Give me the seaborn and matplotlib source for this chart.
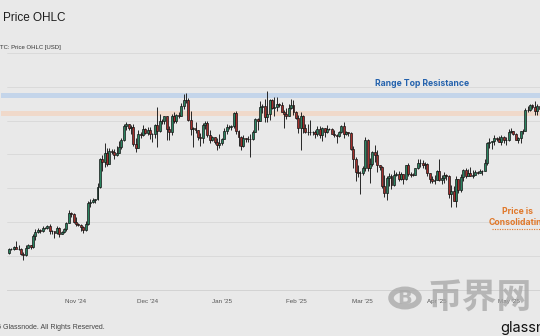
import numpy as np
import pandas as pd
import matplotlib
matplotlib.use("Agg")
import matplotlib.pyplot as plt
import matplotlib.dates as mdates
from matplotlib.patches import Circle
from matplotlib.lines import Line2D
import seaborn as sns

# ---------------- data (BTC daily OHLC, thousands of USD) ----------------
start_date = "2024-10-04"
opens = [
    60.8,62.1,62.1,62.8,62.2,62.1,60.6,60.3,62.4,63.2,62.8,66.0,67.0,67.6,67.4,68.4,68.4,69.0,67.4,67.4,66.7,68.2,66.6,67.0,67.9,69.9,72.7,72.3,
    70.2,69.5,69.3,68.7,67.8,69.4,75.6,75.9,76.5,76.7,80.4,88.7,87.9,90.5,87.3,91.1,90.6,89.8,90.5,92.3,94.3,98.4,98.9,97.7,98.0,93.0,91.9,95.9,95.7,97.5,
    96.4,97.2,95.9,96.0,98.8,97.0,99.9,99.9,101.2,97.4,96.7,101.2,100.0,101.5,101.4,104.3,106.1,106.1,100.2,97.5,97.8,97.2,95.1,94.7,98.7,99.4,95.8,94.2,95.1,93.7,92.8,
    93.4,94.4,96.9,98.1,98.2,98.3,102.1,96.9,95.0,92.5,94.7,94.5,94.5,94.5,96.5,100.5,99.9,104.1,104.4,101.1,102.0,106.1,103.6,104.0,104.8,104.7,102.6,102.0,101.3,103.7,104.7,
    102.4,100.6,97.7,101.4,97.9,96.6,96.6,96.5,96.5,96.1,97.4,95.7,97.9,96.6,97.5,97.6,96.1,95.8,95.5,96.6,98.3,96.1,96.6,96.2,91.6,88.7,84.7,84.4,
    84.4,86.0,94.3,86.1,87.3,90.6,89.9,86.8,86.2,80.7,78.5,82.9,83.7,81.1,84.0,84.3,82.6,84.1,82.7,86.9,84.2,84.0,83.8,86.1,87.5,87.4,86.9,87.2,84.4,82.6,82.3,
    82.5,85.2,82.5,83.1,83.8,83.5,78.2,79.2,76.3,82.6,79.6,83.4,85.3,83.7,84.5,83.7,84.0,84.9,84.5,85.1,85.2,87.5,93.4,93.7,93.9,94.7,94.6,93.8,95.0,94.3,
    94.2,96.5,96.9,95.9,94.3,94.7,96.8,97.0,103.2,103.0,104.7,104.1,102.8,104.2,
]
highs = [
    62.5,62.4,63.0,64.5,63.2,62.5,61.3,63.4,63.5,63.3,66.5,67.9,68.4,68.0,68.9,68.7,69.3,69.5,67.8,67.5,68.8,68.7,67.4,68.2,70.2,73.6,72.9,72.7,
    71.6,69.9,69.4,69.0,70.5,76.4,76.9,77.2,76.9,81.5,89.0,89.9,93.4,91.8,91.8,91.7,91.5,92.5,94.0,94.9,99.0,99.5,98.9,98.6,98.9,94.9,97.3,96.6,98.7,97.9,
    98.0,98.2,96.3,99.0,104.0,101.9,100.5,101.3,101.2,98.3,101.9,102.5,101.9,102.6,105.1,107.8,108.1,106.5,102.8,98.1,99.5,97.3,96.4,99.4,99.9,99.9,97.3,95.5,95.2,94.9,96.1,
    94.9,97.8,98.9,98.7,98.8,102.5,102.7,97.3,95.3,95.8,94.9,95.3,95.9,97.3,100.6,100.8,105.8,104.9,106.3,108.7,106.3,106.4,106.8,107.0,105.3,105.5,103.2,103.7,104.8,106.4,106.0,
    102.8,101.5,102.5,101.7,99.0,99.1,100.1,96.9,97.3,98.3,98.5,98.1,97.9,98.8,97.9,97.7,97.1,96.0,96.9,98.7,99.5,96.9,96.6,96.5,92.5,89.3,87.0,85.1,
    86.5,95.0,94.4,88.9,90.9,92.8,91.3,86.8,86.5,83.9,83.6,84.4,84.3,85.3,84.7,85.1,84.7,84.1,87.0,87.4,84.7,84.5,86.1,88.7,88.5,88.3,87.8,87.5,84.6,83.5,83.9,
    85.5,88.5,83.9,84.7,84.2,83.8,81.1,80.8,83.5,82.7,84.2,85.8,86.0,85.8,86.4,85.4,85.4,85.1,85.6,85.3,88.5,93.8,94.7,94.0,95.7,95.2,95.3,95.6,95.5,95.2,
    97.4,97.9,97.0,96.3,95.2,96.9,97.6,103.6,104.2,104.9,104.9,105.8,104.9,104.4,
]
lows = [
    60.5,61.7,61.8,62.3,61.9,60.3,58.9,60.1,62.4,62.1,62.4,64.8,66.8,66.8,67.2,68.0,68.1,66.6,66.6,65.3,66.5,65.5,66.5,66.8,67.5,69.7,71.4,69.7,
    68.8,69.0,67.5,66.8,67.5,69.3,74.5,75.6,75.8,76.5,80.2,85.1,86.3,86.7,87.1,90.1,88.7,89.4,90.4,91.6,94.1,97.2,97.2,95.9,92.6,90.8,91.8,94.7,95.3,96.1,
    95.8,94.4,93.6,94.7,92.1,96.5,99.0,98.9,94.2,94.3,95.7,99.4,99.2,100.6,101.3,103.3,105.3,100.0,95.7,92.2,96.4,94.2,92.5,93.4,97.6,95.2,93.3,94.1,93.0,91.4,92.0,
    92.8,94.4,96.1,97.5,97.3,97.9,96.1,92.5,91.2,92.2,93.8,93.7,89.3,94.3,96.5,97.3,99.9,102.3,99.6,99.6,100.1,103.3,101.2,102.8,104.1,102.5,97.8,100.3,101.3,103.3,101.6,
    100.3,96.2,91.2,96.2,96.2,95.7,95.7,95.7,94.7,95.3,94.9,94.1,95.2,96.3,97.3,96.1,95.2,93.4,95.2,96.4,94.8,95.8,95.3,91.4,86.1,82.3,83.2,78.2,
    83.9,85.0,85.1,81.5,86.5,87.8,84.7,85.3,80.0,77.5,76.6,80.8,79.9,80.8,83.6,82.1,82.4,81.2,82.4,83.7,83.2,83.7,83.8,85.6,86.4,85.9,85.8,83.6,81.6,81.6,81.3,
    82.4,82.3,81.2,81.7,82.4,77.2,74.5,76.2,74.6,78.5,78.9,82.3,83.1,83.7,83.6,83.1,83.9,84.3,84.4,83.9,85.1,87.0,91.9,91.7,92.9,93.9,93.6,92.9,93.4,92.9,
    94.1,96.3,95.7,94.2,93.5,93.4,95.9,96.9,102.4,102.8,103.4,101.5,101.5,102.6,
]
closes = [
    62.1,62.1,62.8,62.2,62.1,60.6,60.3,62.4,63.2,62.8,66.0,67.0,67.6,67.4,68.4,68.4,69.0,67.4,67.4,66.7,68.2,66.6,67.0,67.9,69.9,72.7,72.3,70.2,
    69.5,69.3,68.7,67.8,69.4,75.6,75.9,76.5,76.7,80.4,88.7,87.9,90.5,87.3,91.1,90.6,89.8,90.5,92.3,94.3,98.4,98.9,97.7,98.0,93.0,91.9,95.9,95.7,97.5,96.4,
    97.2,95.9,96.0,98.8,97.0,99.9,99.9,101.2,97.4,96.7,101.2,100.0,101.5,101.4,104.3,106.1,106.1,100.2,97.5,97.8,97.2,95.1,94.7,98.7,99.4,95.8,94.2,95.1,93.7,92.8,93.4,
    94.4,96.9,98.1,98.2,98.3,102.1,96.9,95.0,92.5,94.7,94.5,94.5,94.5,96.5,100.5,99.9,104.1,104.4,101.1,102.0,106.1,103.6,104.0,104.8,104.7,102.6,102.0,101.3,103.7,104.7,102.4,
    100.6,97.7,101.4,97.9,96.6,96.6,96.5,96.5,96.1,97.4,95.7,97.9,96.6,97.5,97.6,96.1,95.8,95.5,96.6,98.3,96.1,96.6,96.2,91.6,88.7,84.7,84.4,84.4,
    86.0,94.3,86.1,87.3,90.6,89.9,86.8,86.2,80.7,78.5,82.9,83.7,81.1,84.0,84.3,82.6,84.1,82.7,86.9,84.2,84.0,83.8,86.1,87.5,87.4,86.9,87.2,84.4,82.6,82.3,82.5,
    85.2,82.5,83.1,83.8,83.5,78.2,79.2,76.3,82.6,79.6,83.4,85.3,83.7,84.5,83.7,84.0,84.9,84.5,85.1,85.2,87.5,93.4,93.7,93.9,94.7,94.6,93.8,95.0,94.3,94.2,
    96.5,96.9,95.9,94.3,94.7,96.8,97.0,103.2,103.0,104.7,104.1,102.8,104.2,103.5,
]

# reference zones (thousands USD)
resistance_band = [106.6, 108.1]
lower_band = [101.3, 102.8]

month_ticks = ["2024-11-01", "2024-12-01", "2025-01-01", "2025-02-01",
               "2025-03-01", "2025-04-01", "2025-05-01"]
month_labels = ["Nov '24", "Dec '24", "Jan '25", "Feb '25", "Mar '25", "Apr '25", "May '25"]
y_ticks = [50, 60, 70, 80, 90, 100, 110, 120]

# ---------------- styling ----------------
BG = "#e9e9e9"
GREEN = "#2a8460"
RED = "#a52f2b"
EDGE = "#151515"

sns.set_theme(style="white", rc={"axes.facecolor": BG, "figure.facecolor": BG})
plt.rcParams["font.family"] = ["Liberation Sans", "DejaVu Sans"]

W, H = 540, 336
fig = plt.figure(figsize=(W / 100, H / 100), dpi=100)


def fx(px):
    return px / W


def fy(py):
    return 1 - py / H


ax_left, ax_right, ax_top, ax_bottom = 7, 548, 51, 290
ax = fig.add_axes([fx(ax_left), fy(ax_bottom), (ax_right - ax_left) / W, (ax_bottom - ax_top) / H])
ax.set_facecolor(BG)

df = pd.DataFrame({
    "date": pd.date_range(start_date, periods=len(closes), freq="D"),
    "open": opens, "high": highs, "low": lows, "close": closes,
})
x = mdates.date2num(df["date"])
o = df["open"].to_numpy(); h = df["high"].to_numpy()
l = df["low"].to_numpy(); c = df["close"].to_numpy()
up = c >= o

# bands
for band, col in [(resistance_band, "#c4d5ea"), (lower_band, "#f0d9ca")]:
    r = ax.axhspan(band[0], band[1], xmin=-0.011, xmax=1, color=col, lw=0, zorder=0.5)
    r.set_clip_on(False)

# wicks
ax.vlines(x, l, h, color="#262626", lw=0.7, zorder=2)
# bodies
ax.bar(x[up], (c - o)[up], bottom=o[up], width=0.82, color=GREEN,
       edgecolor=EDGE, linewidth=0.5, zorder=3)
ax.bar(x[~up], (c - o)[~up], bottom=o[~up], width=0.82, color=RED,
       edgecolor=EDGE, linewidth=0.5, zorder=3)

# scales: 2.39 px per day, Nov 1 at x=76 px
nov1 = mdates.date2num(pd.Timestamp("2024-11-01"))
ppd = 2.39
ax.set_xlim(nov1 - (76 - ax_left) / ppd, nov1 + (ax_right - 76) / ppd)
ax.set_ylim(50, 50 + (ax_bottom - ax_top) / 3.39)

ax.set_yticks(y_ticks)
ax.set_yticklabels([])
ax.tick_params(axis="y", length=0)
ax.grid(axis="y", color="#d8d8d8", lw=0.6, zorder=0)
ax.set_axisbelow(True)

ax.set_xticks(mdates.date2num(pd.to_datetime(month_ticks)))
ax.set_xticklabels(month_labels, fontsize=4.5, color="#555555")
ax.tick_params(axis="x", length=2.5, width=0.5, color="#c8c8c8", pad=4, direction="out")

for s in ["top", "right", "left"]:
    ax.spines[s].set_visible(False)
ax.spines["bottom"].set_color("#cfcfcf")
ax.spines["bottom"].set_linewidth(0.6)

# ---------------- texts ----------------
fig.text(fx(3), fy(18), "Price OHLC", fontsize=8.5, color="#1e1e1e", va="center", ha="left")
fig.text(fx(-3.5), fy(47), "BTC: Price OHLC [USD]", fontsize=4.3, color="#333333", va="center", ha="left")
fig.text(fx(105), fy(327), "\u00a9 2025 Glassnode. All Rights Reserved.", fontsize=5, color="#444444",
         va="center", ha="right")
fig.text(fx(500), fy(328), "glassnode", fontsize=10.5, color="#111111", va="center", ha="left",
         family=["Inter", "DejaVu Sans"])

fig.text(fx(375), fy(84), "Range Top Resistance", fontsize=6.2, color="#2462ad", fontweight="bold",
         va="center", ha="left", family=["Inter", "DejaVu Sans"])
fig.text(fx(518), fy(217), "Price is\nConsolidating", fontsize=6.2, color="#e0782a", fontweight="bold",
         va="center", ha="center", linespacing=1.15, family=["Inter", "DejaVu Sans"])
fig.add_artist(Line2D([fx(492), fx(545)], [fy(228.5), fy(228.5)], transform=fig.transFigure,
                      color="#e0782a", lw=0.8, linestyle=(0, (1, 1.2))))

# watermark
fig.add_artist(Circle((fx(405), fy(298)), 14 / W, transform=fig.transFigure, fill=False,
                      edgecolor="#ababab", lw=4.0, alpha=0.8))
fig.text(fx(405), fy(298), "B", fontsize=14, fontweight="bold", color="#ababab", alpha=0.8,
         ha="center", va="center", family=["DejaVu Sans"])
fig.text(fx(480), fy(298), "币界网", fontsize=25, fontweight="bold", color="#a6a6a6", alpha=0.75,
         ha="center", va="center", family=["Noto Sans CJK SC", "DejaVu Sans"])

fig.savefig("out.png", dpi=100, facecolor=BG)
